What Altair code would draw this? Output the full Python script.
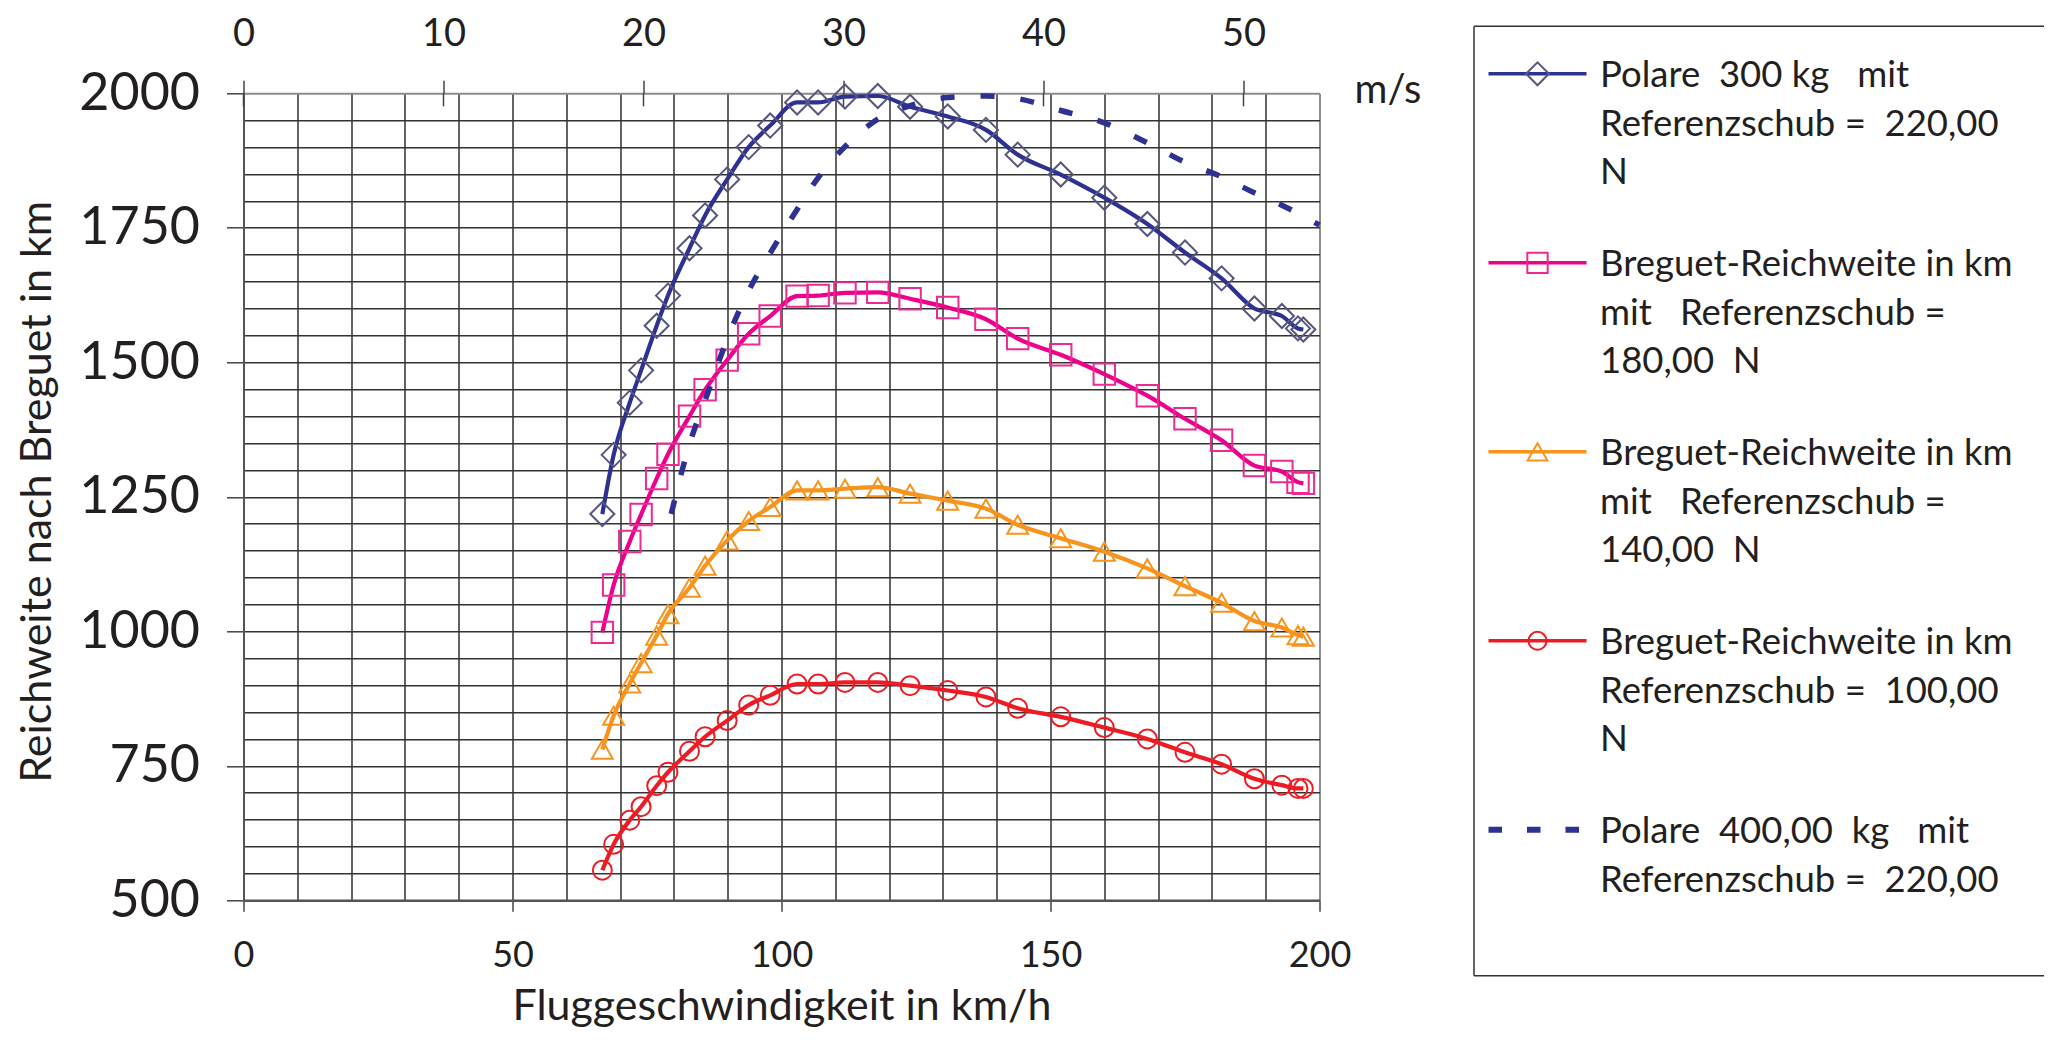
import altair as alt
import pandas as pd

# ---------------- data ----------------
speed_kmh = [66.7, 68.8, 71.8, 73.9, 76.8, 78.9, 82.9, 85.8, 89.9, 93.9, 97.9,
             102.9, 106.8, 111.8, 117.9, 123.9, 130.9, 138.0, 143.9, 151.9,
             160.0, 168.0, 175.0, 181.8, 187.9, 193.0, 196.0, 197.0]
polare_300 = [1218, 1328, 1425, 1485, 1568, 1624, 1712, 1773, 1840, 1900, 1940,
              1983, 1983, 1994, 1995, 1975, 1957, 1932, 1886, 1849,
              1806, 1757, 1704, 1656, 1600, 1586, 1563, 1561]
breguet_180 = [998, 1086, 1167, 1217, 1284, 1329, 1400, 1449, 1504, 1553, 1586,
               1623, 1624, 1629, 1630, 1618, 1602, 1580, 1544, 1514,
               1478, 1438, 1395, 1355, 1308, 1297, 1277, 1275]
breguet_140 = [780, 843, 903, 941, 992, 1032, 1081, 1122, 1169, 1205, 1231,
               1262, 1262, 1265, 1268, 1256, 1243, 1228, 1198, 1173,
               1148, 1117, 1084, 1053, 1019, 1007, 993, 990]
breguet_100 = [556, 604, 649, 674, 713, 738, 777, 804, 834, 863, 881,
               902, 902, 905, 905, 899, 890, 878, 857, 841,
               821, 800, 775, 753, 726, 714, 708, 708]

speed_400 = [79.5, 82.9, 85.8, 89.9, 93.9, 97.9, 102.9, 106.8, 111.8, 117.9,
             123.9, 130.9, 138.0, 143.9, 151.9, 160.0, 168.0, 175.0, 181.8,
             187.9, 193.0, 200.0]
polare_400 = [1218, 1348, 1429, 1543, 1633, 1703, 1784, 1843, 1901, 1952,
              1977, 1992, 1995, 1990, 1968, 1945, 1908, 1872, 1845,
              1815, 1792, 1755]

x_grid = list(range(0, 201, 10))
y_grid = list(range(500, 2001, 50))
ms_ticks = [0, 10, 20, 30, 40, 50]

legend_labels = [
    "Polare\u00a0 300 kg\u00a0\u00a0 mit\nReferenzschub =\u00a0 220,00\nN",
    "Breguet-Reichweite in km\nmit\u00a0\u00a0 Referenzschub =\n180,00\u00a0 N",
    "Breguet-Reichweite in km\nmit\u00a0\u00a0 Referenzschub =\n140,00\u00a0 N",
    "Breguet-Reichweite in km\nReferenzschub =\u00a0 100,00\nN",
    "Polare\u00a0 400,00\u00a0 kg\u00a0\u00a0 mit\nReferenzschub =\u00a0 220,00",
]

# ---------------- styles ----------------
FONT = "Lato"
TXT = "#231f20"
W, H = 1076, 807
TOTAL_W, TOTAL_H = 2036, 1022
PAD_L, PAD_T = 235.5, 85.3

line_colors = ["#2e3192", "#ec008c", "#f7941d", "#ed1c24"]
marker_colors = ["#56567f", "#ec2a94", "#f7941d", "#ed1c24"]
shapes = ["diamond", "square", "triangle-up", "circle"]
sizes = [580, 460, 440, 360]
series = [polare_300, breguet_180, breguet_140, breguet_100]

x_scale = alt.Scale(domain=[0, 200], nice=False, zero=False)
y_scale = alt.Scale(domain=[500, 2000], nice=False, zero=False)

x_axis = alt.Axis(
    values=x_grid, grid=True,
    gridColor={"condition": {"test": "datum.value === 200", "value": "#8c8c8c"}, "value": "#222222"},
    gridWidth={"condition": {"test": "datum.value === 200", "value": 2}, "value": 1.4},
    tickOpacity={"condition": {"test": "datum.value % 50 === 0", "value": 1}, "value": 0},
    labelExpr="datum.value % 50 === 0 ? datum.label : ''",
    tickSize=11, tickColor="#444444", tickWidth=1.5,
    domainColor="#555555", domainWidth=2.5,
    labelFont=FONT, labelFontSize=36, labelColor=TXT, labelPadding=55,
    labelBaseline="alphabetic", labelFlush=False, labelOverlap=False,
    title="Fluggeschwindigkeit in km/h", titleFont=FONT, titleFontSize=43,
    titleFontWeight="normal", titleColor=TXT, titleX=W / 2, titleY=119,
    titleBaseline="alphabetic", titleAlign="center",
)
y_axis = alt.Axis(
    values=y_grid, grid=True, format="d",
    gridColor={"condition": {"test": "datum.value === 2000", "value": "#8c8c8c"}, "value": "#333333"},
    gridWidth={"condition": {"test": "datum.value === 2000", "value": 2}, "value": 1.4},
    tickOpacity={"condition": {"test": "datum.value % 250 === 0", "value": 1}, "value": 0},
    labelExpr="datum.value % 250 === 0 ? datum.label : ''",
    tickSize=17, tickColor="#444444", tickWidth=1.5,
    domainColor="#555555", domainWidth=2,
    labelFont=FONT, labelFontSize=52, labelColor=TXT, labelPadding=27,
    labelBaseline="middle", labelFlush=False, labelOverlap=False,
    title="Reichweite nach Breguet in km", titleFont=FONT, titleFontSize=43,
    titleFontWeight="normal", titleColor=TXT, titleX=-206, titleY=398,
    titleAngle=-90, titleBaseline="middle", titleAlign="center",
)

X = alt.X("v:Q", scale=x_scale, axis=x_axis)
Y = alt.Y("r:Q", scale=y_scale, axis=y_axis)

layers = []
for vals, lc, mc, shp, sz in zip(series, line_colors, marker_colors, shapes, sizes):
    df = pd.DataFrame({"v": speed_kmh, "r": vals})
    layers.append(alt.Chart(df).mark_line(color=lc, strokeWidth=4.2, interpolate="monotone").encode(x=X, y=Y))
    layers.append(alt.Chart(df).mark_point(shape=shp, size=sz, filled=False, color=mc,
                                           strokeWidth=2, opacity=1).encode(x=X, y=Y))

df400 = pd.DataFrame({"v": speed_400, "r": polare_400})
layers.append(alt.Chart(df400).mark_line(color="#2e3192", strokeWidth=5.5, strokeDash=[14, 26],
                                         interpolate="monotone").encode(x=X, y=Y))

main = alt.layer(*layers)

# ---------------- top axis in m/s ----------------
ms_df = pd.DataFrame({"ms": ms_ticks})
top = alt.Chart(ms_df).mark_rule(color="#444444", strokeWidth=1.5).encode(
    x=alt.X("ms:Q", scale=alt.Scale(domain=[0, 53.8], nice=False, zero=False),
            axis=alt.Axis(orient="top", values=ms_ticks, grid=False, domain=False,
                          tickSize=13, tickColor="#444444", tickWidth=1.5,
                          labelFont=FONT, labelFontSize=38, labelColor=TXT,
                          labelPadding=35, labelBaseline="alphabetic",
                          labelFlush=False, title=None)),
    y=alt.value(0), y2=alt.value(13),
)
ms_label = alt.Chart(pd.DataFrame({"t": ["m/s"]})).mark_text(
    font=FONT, fontSize=40, color=TXT, align="left", baseline="alphabetic"
).encode(x=alt.value(1111), y=alt.value(10), text="t:N")

# ---------------- legend (drawn by hand) ----------------
LX0, LY0, LY1 = 1230.5, -67, 882.5
leg_layers = []
frame = pd.DataFrame({"k": [0]})
leg_layers.append(alt.Chart(frame).mark_rule(color="#333333", strokeWidth=1.5).encode(
    x=alt.value(LX0), y=alt.value(LY0), y2=alt.value(LY1)))
leg_layers.append(alt.Chart(frame).mark_rule(color="#333333", strokeWidth=1.5).encode(
    x=alt.value(LX0), x2=alt.value(1900), y=alt.value(LY0)))
leg_layers.append(alt.Chart(frame).mark_rule(color="#333333", strokeWidth=1.5).encode(
    x=alt.value(LX0), x2=alt.value(1900), y=alt.value(LY1)))

LEG_FS = 36.5
entry_y = [-19.5, 169.5, 358.5, 547.5, 736.5]
for i, lab in enumerate(legend_labels):
    yy = entry_y[i]
    row = pd.DataFrame({"label": [lab]})
    if i < 4:
        leg_layers.append(alt.Chart(row).mark_rule(color=line_colors[i], strokeWidth=3.5).encode(
            x=alt.value(1245), x2=alt.value(1343), y=alt.value(yy)))
        leg_layers.append(alt.Chart(row).mark_point(shape=shapes[i], size=sizes[i] * 0.9, filled=False,
                                                    color=marker_colors[i], strokeWidth=2,
                                                    opacity=1).encode(x=alt.value(1294), y=alt.value(yy)))
    else:
        leg_layers.append(alt.Chart(row).mark_rule(color="#2e3192", strokeWidth=6,
                                                   strokeDash=[13.5, 25]).encode(
            x=alt.value(1245), x2=alt.value(1343), y=alt.value(yy)))
    leg_layers.append(alt.Chart(row).mark_text(
        font=FONT, fontSize=LEG_FS, color=TXT, align="left", baseline="top",
        lineBreak="\n", lineHeight=48.5
    ).encode(x=alt.value(1356.5), y=alt.value(yy - 0.43 * LEG_FS), text="label:N"))

chart = alt.layer(main, top, ms_label, *leg_layers).resolve_scale(x="independent").properties(
    width=W, height=H,
    autosize=alt.AutoSizeParams(type="none"),
    padding={"left": PAD_L, "top": PAD_T, "right": TOTAL_W - PAD_L - W, "bottom": TOTAL_H - PAD_T - H},
).configure_view(stroke=None).configure(font=FONT)

chart.save("out.html", embed_options={"renderer": "svg", "actions": False})
